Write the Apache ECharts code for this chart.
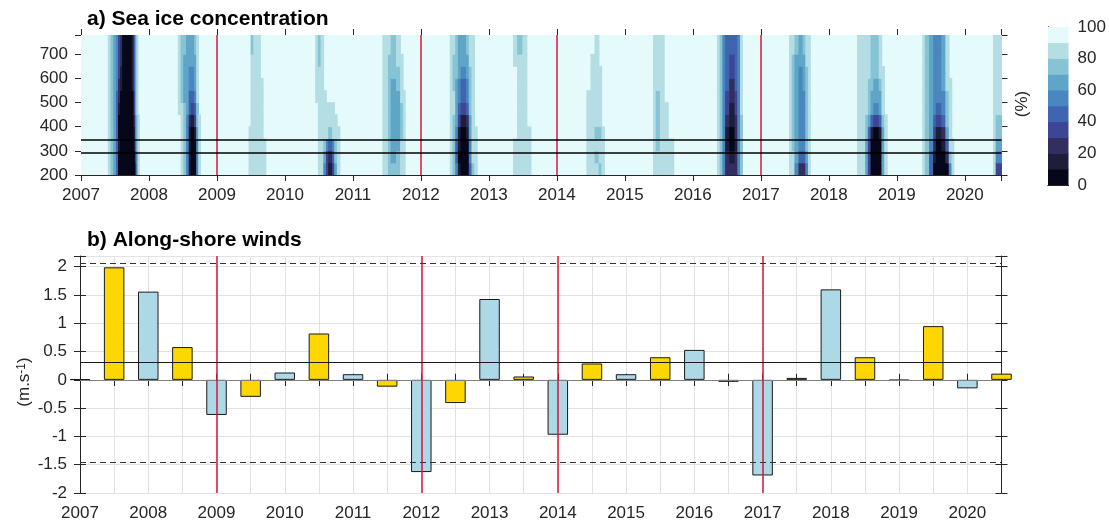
<!DOCTYPE html>
<html><head><meta charset="utf-8">
<script src="https://cdn.jsdelivr.net/npm/echarts@6/dist/echarts.min.js"></script>
<style>html,body{margin:0;padding:0;background:#fff}#c{width:1109px;height:529px}</style>
</head><body><div id="c"></div>
<script>
// ---------------- DATA ----------------
// Panel a: alongshore position bins (row edges), bottom -> top
const alongshoreEdges = [200,250,300,350,400,450,500,550,600,650,700,780];
// Each entry: [timeStart, timeEnd, concentration per row (200..700 rows)]; a single value = same for all rows
const fullIce = 100;
const ice2007 = [
  [2007.40,2007.44, 85],
  [2007.44,2007.48, 75],
  [2007.48,2007.52, 62],
  [2007.52,2007.55, 42,42,45,40,40,45,45,50,52,55,55],
  [2007.55,2007.58, 8,8,10,5,8,15,20,28,30,35,35],
  [2007.58,2007.61, 3,3,3,3,3,5,8,15,18,20,20],
  [2007.61,2007.75, 2],
  [2007.75,2007.78, 3,3,3,3,5,5,8,12,15,15,15],
  [2007.78,2007.80, 8,8,12,15,25,30,35,40,45,45,45],
  [2007.80,2007.82, 25,30,40,50,55,60,62,65,68,68,68],
  [2007.82,2007.84, 65,68,72,75,78,80,82,82,85,85,85],
  [2007.84,2007.86, 85,85,85,85,85,95,95,95,95,95,95]
];
const ice2008 = [
  [2008.43,2008.47, 95,95,95,95,95,88,85,85,85,85,85],
  [2008.47,2008.51, 85,85,85,85,85,80,78,75,75,75,78],
  [2008.51,2008.55, 75,75,72,72,72,70,68,68,68,68,72],
  [2008.55,2008.59, 50,50,52,55,58,60,62,62,62,65,68],
  [2008.59,2008.62, 10,10,10,15,28,42,48,55,58,62,65],
  [2008.62,2008.67, 3,3,3,5,15,32,42,52,55,60,62],
  [2008.67,2008.70, 6,6,8,12,30,48,55,60,65,68,72],
  [2008.70,2008.73, 55,55,58,62,70,75,80,82,85,85,85],
  [2008.73,2008.76, 85,85,85,85,88,95,95,95,95,95,95]
];
const ice2009 = [
  [2009.47,2009.50, 85,85,85,88,95,95,95,95,95,95,95],
  [2009.50,2009.54, 85,85,85,85,85,85,85,85,85,80,78],
  [2009.54,2009.64, 85],
  [2009.64,2009.68, 85,85,85,85,85,85,85,85,95,95,95],
  [2009.68,2009.72, 85,85,88,95,95,95,95,95,95,95,95]
];
const ice2010 = [
  [2010.45,2010.49, 95,95,95,95,95,95,85,85,85,85,85],
  [2010.49,2010.53, 85,85,85,85,85,85,85,82,80,78,78],
  [2010.53,2010.57, 80,82,85,85,85,85,85,85,85,85,85],
  [2010.57,2010.61, 55,60,72,85,85,85,88,95,95,95,95],
  [2010.61,2010.64, 30,35,50,80,85,85,95,95,95,95,95],
  [2010.64,2010.70, 18,22,40,78,85,85,95,95,95,95,95],
  [2010.70,2010.73, 35,40,55,82,85,85,95,95,95,95,95],
  [2010.73,2010.77, 65,70,75,85,85,95,95,95,95,95,95],
  [2010.77,2010.81, 85,85,85,85,95,95,95,95,95,95,95]
];
const ice2011 = [
  [2011.44,2011.48, 85],
  [2011.48,2011.52, 85,85,85,85,80,80,80,80,80,80,80],
  [2011.52,2011.56, 78,75,72,72,72,72,75,75,75,78,80],
  [2011.56,2011.64, 72,68,65,65,65,65,68,68,70,75,78],
  [2011.64,2011.70, 75,70,68,65,65,65,68,72,75,80,85],
  [2011.70,2011.74, 85,85,80,78,78,78,80,85,85,85,95],
  [2011.74,2011.77, 85,85,85,85,85,85,85,95,95,95,95]
];
const ice2012 = [
  [2012.43,2012.47, 85],
  [2012.47,2012.51, 75,75,75,75,78,80,80,78,78,78,80],
  [2012.51,2012.55, 50,45,48,55,62,68,68,68,70,70,72],
  [2012.55,2012.59, 10,8,10,18,35,45,50,55,60,62,68],
  [2012.59,2012.67, 2,2,3,5,15,30,40,48,55,60,65],
  [2012.67,2012.71, 4,6,8,12,28,42,50,56,62,65,70],
  [2012.71,2012.75, 40,50,55,60,68,72,75,75,78,80,85],
  [2012.75,2012.79, 75,80,82,85,85,85,85,85,85,85,88],
  [2012.79,2012.83, 85,85,85,85,95,95,95,95,95,95,95]
];
const ice2013 = [
  [2013.36,2013.42, 85,85,85,95,95,95,95,95,95,85,85],
  [2013.42,2013.50, 85,85,85,85,85,85,85,85,85,82,78],
  [2013.50,2013.56, 85],
  [2013.56,2013.62, 85,85,85,88,95,95,95,95,95,95,95]
];
const ice2014 = [
  [2014.44,2014.50, 85,85,85,85,85,85,85,95,95,95,95],
  [2014.50,2014.56, 85,85,85,85,85,85,85,85,85,85,95],
  [2014.56,2014.62, 85,78,85,78,85,85,85,85,85,85,85],
  [2014.62,2014.66, 78,85,85,78,85,85,85,85,85,95,95],
  [2014.66,2014.70, 85,85,85,85,95,95,95,95,95,95,95]
];
const ice2015 = [
  [2015.42,2015.46, 85],
  [2015.46,2015.52, 85,85,78,78,78,78,78,80,85,85,85],
  [2015.52,2015.58, 85],
  [2015.58,2015.64, 85,85,85,85,85,85,95,95,95,95,95],
  [2015.64,2015.72, 85,85,85,95,95,95,95,95,95,95,95]
];
const ice2016 = [
  [2016.36,2016.40, 85],
  [2016.40,2016.44, 72,72,72,72,72,75,75,72,72,72,72],
  [2016.44,2016.48, 55,55,55,55,55,55,58,55,55,55,55],
  [2016.48,2016.54, 25,20,15,15,20,30,35,40,45,45,48],
  [2016.54,2016.62, 20,15,8,8,10,18,22,25,30,35,40],
  [2016.62,2016.66, 28,25,18,20,25,30,35,40,42,42,45],
  [2016.66,2016.70, 55,55,50,50,55,55,58,58,58,58,58],
  [2016.70,2016.73, 78,78,78,78,78,80,80,80,80,80,80]
];
const ice2017 = [
  [2017.42,2017.46, 85],
  [2017.46,2017.50, 80,80,78,78,78,78,78,78,78,78,80],
  [2017.50,2017.56, 55,62,65,62,60,60,60,62,62,65,70],
  [2017.56,2017.62, 25,45,55,55,52,52,55,58,58,62,68],
  [2017.62,2017.66, 20,40,55,58,55,55,58,60,60,65,70],
  [2017.66,2017.70, 50,65,72,75,72,72,75,78,78,80,85],
  [2017.70,2017.73, 85]
];
const ice2018 = [
  [2018.42,2018.48, 85],
  [2018.48,2018.54, 82,82,82,85,85,85,85,85,85,85,85],
  [2018.54,2018.58, 65,65,68,75,78,82,85,85,85,85,85],
  [2018.58,2018.62, 30,30,35,45,62,72,75,78,80,85,85],
  [2018.62,2018.66, 8,8,8,15,45,60,65,72,75,78,78],
  [2018.66,2018.74, 2,2,2,5,35,55,62,68,72,75,78],
  [2018.74,2018.78, 8,8,8,15,45,62,68,75,80,85,85],
  [2018.78,2018.82, 60,60,62,68,75,80,85,85,88,95,95],
  [2018.82,2018.86, 85,85,85,85,88,95,95,95,95,95,95]
];
const ice2019 = [
  [2019.38,2019.42, 85],
  [2019.42,2019.48, 75,75,75,75,75,75,72,72,72,72,75],
  [2019.48,2019.54, 40,48,55,60,62,62,62,62,62,62,65],
  [2019.54,2019.58, 8,15,25,35,45,52,55,55,55,55,58],
  [2019.58,2019.66, 2,3,5,10,30,45,50,52,55,55,58],
  [2019.66,2019.72, 3,5,12,25,45,55,58,62,65,65,68],
  [2019.72,2019.77, 8,25,45,60,70,75,78,80,82,85,85],
  [2019.77,2019.81, 55,70,80,85,85,85,85,85,95,95,95],
  [2019.81,2019.84, 85,85,88,95,95,95,95,95,95,95,95]
];
const ice2020 = [
  [2020.42,2020.46, 85],
  [2020.46,2020.56, 30,55,65,70,75,80,85,85,85,85,85]
];
const iceLevels = [0,10,20,30,40,50,60,70,80,90];
const markYears = [2009, 2012, 2014, 2017];
const boxLines = [292, 347];

// Panel b: along-shore wind anomalies
const blueTimes  = [2007,2008,2009,2010,2011,2012,2013,2014,2015,2016,2017,2018,2019,2020];
const blueValues = [0.01,1.56,-0.62,0.13,0.10,-1.63,1.43,-0.97,0.10,0.53,-1.69,1.60,-0.01,-0.15];
const yellowTimes  = [2007.5,2008.5,2009.5,2010.5,2011.5,2012.5,2013.5,2014.5,2015.5,2016.5,2017.5,2018.5,2019.5,2020.5];
const yellowValues = [1.99,0.58,-0.30,0.82,-0.12,-0.41,0.06,0.29,0.40,-0.035,0.035,0.40,0.95,0.11];
const meanWind = 0.31;
const windBounds = [2.07, -1.46];

// ---------------- STYLE ----------------
const FONT = "'Liberation Sans', Arial, Helvetica, sans-serif";
const AX = '#262626';
const icePalette = ['#07071a','#1e1d3a','#322e62','#3c4694','#3f64b0','#4b87bf','#5fa5c8','#86c4d5','#b4dee3','#e5fbfb'];
const xMinA = 2007, xMaxA = 2020.54;
const yMinA = 200, yMaxA = 780;

// build cells
const iceCells = [[xMinA, xMaxA, yMinA, yMaxA, fullIce]];
[ice2007,ice2008,ice2009,ice2010,ice2011,ice2012,ice2013,ice2014,ice2015,ice2016,ice2017,ice2018,ice2019,ice2020].forEach(ev => {
  ev.forEach(col => {
    const vals = col.slice(2);
    for (let r = 0; r < alongshoreEdges.length - 1; r++) {
      const v = vals.length === 1 ? vals[0] : vals[r];
      if (v >= 90) continue;
      iceCells.push([col[0], col[1], alongshoreEdges[r], alongshoreEdges[r+1], v]);
    }
  });
});
function colorOf(v){ return icePalette[Math.max(0, Math.min(9, Math.floor(v/10)))]; }

function renderCell(params, api) {
  const p0 = api.coord([api.value(0), api.value(3)]);
  const p1 = api.coord([api.value(1), api.value(2)]);
  return { type: 'rect',
    shape: { x: p0[0]-0.4, y: p0[1]-0.4, width: p1[0]-p0[0]+0.8, height: p1[1]-p0[1]+0.8 },
    style: { fill: colorOf(api.value(4)) } };
}
function renderLevel(params, api) {
  const p0 = api.coord([0, api.value(0) + 10]);
  const p1 = api.coord([1, api.value(0)]);
  return { type: 'rect', shape: { x: p0[0], y: p0[1]-0.3, width: p1[0]-p0[0], height: p1[1]-p0[1]+0.6 },
    style: { fill: colorOf(api.value(0)) } };
}

const FS = 17;
const lbl = { color: AX, fontSize: FS, fontFamily: FONT };
const lineSt = { show: true, lineStyle: { color: AX, width: 1 } };
function tick(inside, len) { return { show: true, inside: inside, length: len, lineStyle: { color: AX, width: 1 } }; }

const chart = echarts.init(document.getElementById('c'), null, { renderer: 'canvas' });
const option = {
  animation: false,
  grid: [
    { left: 81, top: 35, width: 920.5, height: 140 },
    { left: 80, top: 256, width: 921.5, height: 237 },
    { left: 1048, top: 27, width: 20.5, height: 158 }
  ],
  xAxis: [
    { gridIndex: 0, type: 'value', min: xMinA, max: xMaxA, interval: 1, position: 'bottom',
      axisLine: lineSt, axisTick: tick(false, 6), splitLine: { show: false },
      axisLabel: Object.assign({ margin: 12, formatter: v => Number.isInteger(v) ? String(v) : '' }, lbl) },
    { gridIndex: 0, type: 'value', min: xMinA, max: xMaxA, interval: 1, position: 'top',
      axisLine: lineSt, axisTick: tick(false, 6), splitLine: { show: false }, axisLabel: { show: false } },
    { gridIndex: 1, type: 'value', min: 2007, max: 2020.5, interval: 0.5, position: 'bottom',
      axisLine: lineSt, axisTick: tick(false, 6),
      splitLine: { show: true, lineStyle: { color: '#e2e2e2', width: 1 } },
      axisLabel: Object.assign({ margin: 12, formatter: v => Number.isInteger(v) ? String(v) : '' }, lbl) },
    { gridIndex: 1, type: 'value', min: 2007, max: 2020.5, interval: 0.5, position: 'bottom',
      axisLine: { show: false }, axisTick: tick(true, 6), splitLine: { show: false }, axisLabel: { show: false } },
    { gridIndex: 1, type: 'value', min: 2007, max: 2020.5, interval: 0.5, position: 'top',
      axisLine: lineSt, axisTick: tick(false, 6), splitLine: { show: false }, axisLabel: { show: false } },
    { gridIndex: 1, type: 'value', min: 2007, max: 2020.5, interval: 0.5, position: 'top',
      axisLine: { show: false }, axisTick: tick(true, 6), splitLine: { show: false }, axisLabel: { show: false } },
    { gridIndex: 2, type: 'value', min: 0, max: 1, position: 'bottom', axisLine: lineSt,
      axisTick: { show: false }, axisLabel: { show: false }, splitLine: { show: false } },
    { gridIndex: 2, type: 'value', min: 0, max: 1, position: 'top', axisLine: lineSt,
      axisTick: { show: false }, axisLabel: { show: false }, splitLine: { show: false } }
  ],
  yAxis: [
    { gridIndex: 0, type: 'value', min: yMinA, max: yMaxA, interval: 100, position: 'left',
      axisLine: lineSt, axisTick: tick(false, 6), splitLine: { show: false },
      axisLabel: Object.assign({ margin: 13, formatter: v => v % 100 === 0 ? String(v) : '' }, lbl) },
    { gridIndex: 0, type: 'value', min: yMinA, max: yMaxA, interval: 100, position: 'right',
      axisLine: lineSt, axisTick: tick(false, 6), splitLine: { show: false }, axisLabel: { show: false } },
    { gridIndex: 1, type: 'value', min: -2, max: 2.19, interval: 0.5, position: 'left',
      axisLine: lineSt, axisTick: tick(false, 6),
      splitLine: { show: true, lineStyle: { color: '#e2e2e2', width: 1 } },
      axisLabel: Object.assign({ margin: 13, formatter: v => (Math.abs(v*2 - Math.round(v*2)) < 1e-6) ? String(v) : '' }, lbl) },
    { gridIndex: 1, type: 'value', min: -2, max: 2.19, interval: 0.5, position: 'left',
      axisLine: { show: false }, axisTick: tick(true, 6), splitLine: { show: false }, axisLabel: { show: false } },
    { gridIndex: 1, type: 'value', min: -2, max: 2.19, interval: 0.5, position: 'right',
      axisLine: lineSt, axisTick: tick(false, 6), splitLine: { show: false }, axisLabel: { show: false } },
    { gridIndex: 1, type: 'value', min: -2, max: 2.19, interval: 0.5, position: 'right',
      axisLine: { show: false }, axisTick: tick(true, 6), splitLine: { show: false }, axisLabel: { show: false } },
    { gridIndex: 2, type: 'value', min: 0, max: 100, interval: 20, position: 'right',
      axisLine: lineSt, axisTick: tick(false, 5), splitLine: { show: false },
      axisLabel: Object.assign({ margin: 9 }, lbl) },
    { gridIndex: 2, type: 'value', min: 0, max: 100, interval: 20, position: 'left',
      axisLine: lineSt, axisTick: { show: false }, splitLine: { show: false }, axisLabel: { show: false } }
  ],
  series: [
    { type: 'custom', xAxisIndex: 0, yAxisIndex: 0, clip: true, z: 1, silent: true,
      renderItem: renderCell, data: iceCells },
    { type: 'line', xAxisIndex: 0, yAxisIndex: 0, data: [], z: 5, silent: true,
      markLine: { silent: true, symbol: ['none','none'], label: { show: false }, animation: false,
        data: markYears.map(v => ({ xAxis: v, lineStyle: { color: '#dc143c', width: 1.5, type: 'solid' } }))
          .concat(boxLines.map(v => ({ yAxis: v, lineStyle: { color: '#000', width: 1.5, type: 'solid' } }))) } },
    { type: 'bar', name: 'blue', xAxisIndex: 2, yAxisIndex: 2, barWidth: 20.5, barGap: '-100%', z: 2,
      itemStyle: { color: '#add8e6', borderColor: '#1a1a1a', borderWidth: 1 },
      data: blueTimes.map((t, i) => [t, blueValues[i]]) },
    { type: 'bar', name: 'yellow', xAxisIndex: 2, yAxisIndex: 2, barWidth: 20.5, barGap: '-100%', z: 2,
      itemStyle: { color: '#ffd700', borderColor: '#1a1a1a', borderWidth: 1 },
      data: yellowTimes.map((t, i) => [t, yellowValues[i]]) },
    { type: 'line', xAxisIndex: 2, yAxisIndex: 2, data: [], z: 5, silent: true,
      markLine: { silent: true, symbol: ['none','none'], label: { show: false }, animation: false,
        data: [{ yAxis: 0, lineStyle: { color: '#808080', width: 1, type: 'solid' } }]
          .concat(markYears.map(v => ({ xAxis: v, lineStyle: { color: '#dc143c', width: 1.5, type: 'solid' } })))
          .concat([{ yAxis: meanWind, lineStyle: { color: '#1a1a1a', width: 1, type: 'solid' } }])
          .concat(windBounds.map(v => ({ yAxis: v, lineStyle: { color: '#333', width: 1, type: [6, 4] } }))) } },
    { type: 'custom', xAxisIndex: 6, yAxisIndex: 6, clip: true, z: 1, silent: true,
      renderItem: renderLevel, data: iceLevels.map(v => [v]) }
  ],
  graphic: [
    { type: 'text', x: 87, y: 19, style: { text: 'a) Sea ice concentration', font: 'bold 21px ' + FONT, fill: '#000', textAlign: 'left', textVerticalAlign: 'middle' } },
    { type: 'text', x: 87, y: 240, style: { text: 'b) Along-shore winds', font: 'bold 21px ' + FONT, fill: '#000', textAlign: 'left', textVerticalAlign: 'middle' } },
    { type: 'text', x: 1022, y: 104, rotation: Math.PI/2, style: { text: '(%)', font: '17px ' + FONT, fill: AX, textAlign: 'center', textVerticalAlign: 'middle' } },
    { type: 'text', x: 24, y: 382, rotation: Math.PI/2, style: { text: '{a|(m.s}{b|-1}{a|)}', fill: AX, textAlign: 'center', textVerticalAlign: 'middle',
      rich: { a: { fontSize: 17, fontFamily: FONT, color: AX, verticalAlign: 'bottom' }, b: { fontSize: 12, fontFamily: FONT, color: AX, verticalAlign: 'top' } } } }
  ]
};
chart.setOption(option);
</script></body></html>
